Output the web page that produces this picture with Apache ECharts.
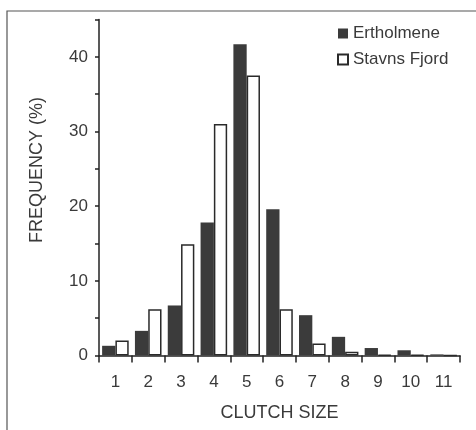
<!DOCTYPE html>
<html>
<head>
<meta charset="utf-8">
<script src="https://cdn.jsdelivr.net/npm/echarts@6/dist/echarts.min.js"></script>
<style>html,body{margin:0;padding:0;background:#fff}#chart{width:476px;height:430px}</style>
</head>
<body>
<div id="chart"></div>
<script>
var categories = ['1','2','3','4','5','6','7','8','9','10','11'];
var ertholmene = [1.3, 3.3, 6.7, 17.8, 41.7, 19.6, 5.4, 2.5, 1.0, 0.7, 0.15];
var stavnsFjord = [2.0, 6.2, 14.9, 31.0, 37.5, 6.2, 1.6, 0.5, 0.1, 0.1, 0];
var seriesNames = ['Ertholmene', 'Stavns Fjord'];
var yTickLabels = [0, 10, 20, 30, 40];

var FONT = 'Liberation Sans, Arial, Helvetica, sans-serif';
var TXT = '#3a3a3a';
var chart = echarts.init(document.getElementById('chart'), null, {renderer: 'canvas'});
chart.setOption({
  animation: false,
  backgroundColor: '#fff',
  textStyle: {fontFamily: FONT},
  grid: {left: 99, right: 16, top: 19.5, bottom: 74.5, containLabel: false},
  legend: {
    orient: 'vertical', left: 332, top: 20,
    itemWidth: 10, itemHeight: 10, itemGap: 9, itemTextGap: 13,
    icon: 'rect',
    textStyle: {fontSize: 17, color: TXT, fontFamily: FONT},
    data: seriesNames
  },
  xAxis: {
    type: 'category', data: categories,
    name: 'CLUTCH SIZE', nameLocation: 'middle', nameGap: 49,
    nameTextStyle: {fontSize: 18, color: TXT, fontFamily: FONT},
    axisLine: {show: true, lineStyle: {color: '#222', width: 1.5}},
    axisTick: {show: true, length: 7, lineStyle: {color: '#222', width: 1.5}},
    axisLabel: {fontSize: 17, color: TXT, margin: 18, fontFamily: FONT},
    splitLine: {show: false}
  },
  yAxis: {
    type: 'value', min: 0, max: 45, interval: 5,
    axisLine: {show: true, lineStyle: {color: '#222', width: 1.5}},
    axisTick: {show: true, length: 4, lineStyle: {color: '#222', width: 1.5}},
    axisLabel: {fontSize: 17, color: TXT, margin: 11, fontFamily: FONT,
      formatter: function (v) { return yTickLabels.indexOf(v) >= 0 ? String(v) : ''; }},
    splitLine: {show: false}
  },
  graphic: [
    {type: 'rect', shape: {x: 7, y: 11, width: 600, height: 600}, silent: true,
     style: {fill: 'none', stroke: '#555', lineWidth: 1.2}},
    {type: 'text', x: 37, y: 170, rotation: Math.PI / 2, silent: true,
     style: {text: 'FREQUENCY (%)', fontSize: 18, fill: TXT, font: '18px ' + FONT,
             align: 'center', verticalAlign: 'middle'}}
  ],
  series: [
    {name: seriesNames[0], type: 'bar', data: ertholmene, barGap: '0%', barCategoryGap: '19%',
     itemStyle: {color: '#3b3b3b', borderColor: '#3b3b3b', borderWidth: 0}},
    {name: seriesNames[1], type: 'bar', data: stavnsFjord, barGap: '0%', barCategoryGap: '19%',
     itemStyle: {color: '#ffffff', borderColor: '#2a2a2a', borderWidth: 1.5}}
  ]
});
</script>
</body>
</html>
